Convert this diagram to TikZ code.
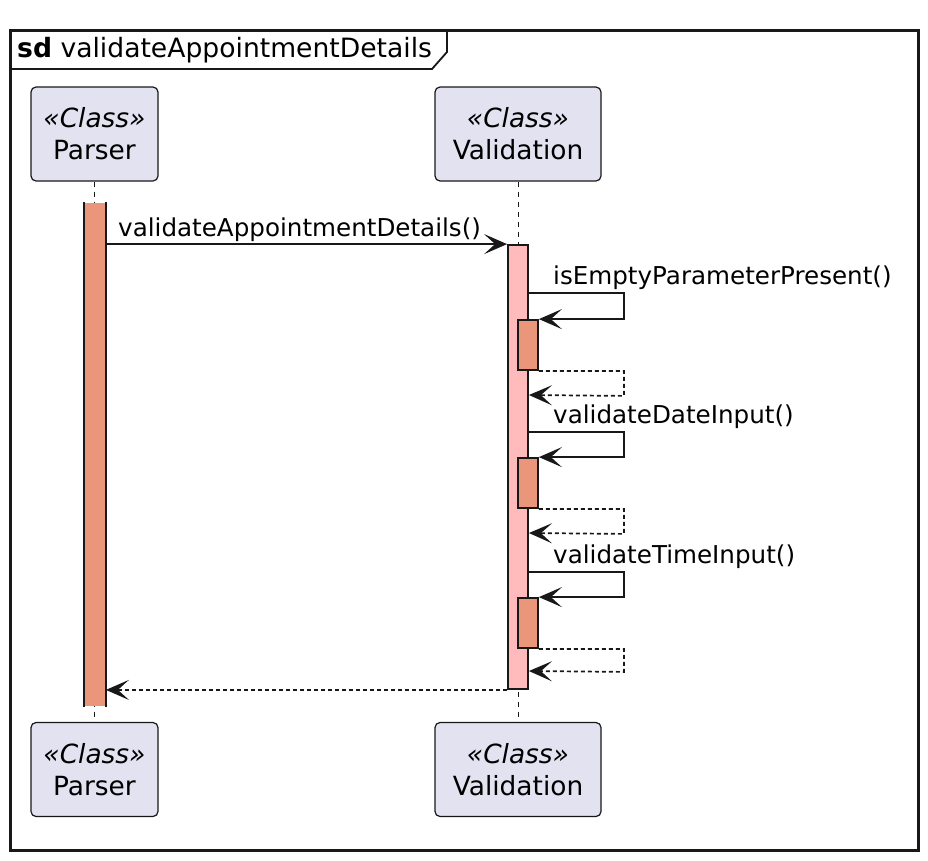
\documentclass[tikz,border=0pt]{standalone}
\usepackage{fontspec}
\setmainfont{DejaVu Sans}
\usepackage{xcolor}
\usetikzlibrary{arrows.meta, positioning}

\definecolor{partfill}{HTML}{E2E2F0}
\definecolor{barsalmon}{HTML}{E9967A}
\definecolor{barpink}{HTML}{FFBBBB}
\definecolor{inkcol}{HTML}{181818}

\begin{document}
\begin{tikzpicture}[x=1pt, y=-1pt,
        participant/.style={rectangle, rounded corners=5pt, draw=inkcol, line width=1.2pt, fill=partfill, align=center, minimum width=127pt, minimum height=94pt, inner sep=0pt, font=\fontsize{26.4}{32}\selectfont},
        actbar/.style={rectangle, draw=inkcol, line width=1.8pt, minimum width=20pt, inner sep=0pt},
        lifeline/.style={draw=inkcol, line width=0.8pt, dash pattern=on 5pt off 5pt},
        msglabel/.style={inner sep=0pt, font=\fontsize{24.6}{30}\selectfont},
        call/.style={-{Stealth[length=23pt, width=20pt, inset=11pt]}, draw=inkcol, line width=1.7pt},
        reply/.style={call, dash pattern=on 4pt off 3pt}
    ]
            \useasboundingbox (0,0) rectangle (928,860);

            % Frame
            \draw[inkcol, line width=3pt] (10,30) rectangle (918,850);
            \draw[inkcol, line width=1.8pt] (10,69) -- (432,69) -- (447,52) -- (447,30);
            \node[anchor=west, inner sep=0pt, font=\fontsize{26.6}{32}\selectfont] (title) at (17,50) {\textbf{sd} validateAppointmentDetails};

            % Participants
            \node[participant] (parsertop) at (94.5,134) {\textit{«Class»}\\Parser};
            \node[participant, minimum width=166pt] (validtop) at (518,134) {\textit{«Class»}\\Validation};
            \node[participant] (parserbot) at (94.5,769.5) {\textit{«Class»}\\Parser};
            \node[participant, minimum width=166pt] (validbot) at (518,769.5) {\textit{«Class»}\\Validation};

            \draw[lifeline] (parsertop) -- (parserbot);
            \draw[lifeline] (validtop) -- (validbot);

            % Activations
            \node[actbar, draw=none, fill=barsalmon, minimum height=503pt] (parseract) at (95,454.5) {};
            \draw[inkcol, line width=1.8pt] (parseract.north west) -- (parseract.south west)
                (parseract.north east) -- (parseract.south east);
            \node[actbar, fill=barpink, minimum height=444pt] (validact) at (518,467) {};
            \node[actbar, fill=barsalmon, minimum height=50pt] (emptyact) at (528,345) {};
            \node[actbar, fill=barsalmon, minimum height=50pt] (dateact) at (528,483) {};
            \node[actbar, fill=barsalmon, minimum height=50pt] (timeact) at (528,623) {};

            % Messages
            \draw[call] (parseract.east |- validact.north) -- (validact.north west);
            \node[msglabel, anchor=base west] (detailslbl) at (118,236) {validateAppointmentDetails()};

            \draw[call] (validact.east |- 0,293) -- ++(95,0) |- (emptyact.north east);
            \node[msglabel, anchor=base west] (emptylbl) at (553,284) {isEmptyParameterPresent()};
            \draw[reply] (emptyact.south east) -| ++(85,25) -- (validact.east |- 0,395);

            \draw[call] (validact.east |- 0,432) -- ++(95,0) |- (dateact.north east);
            \node[msglabel, anchor=base west] (datelbl) at (553,423) {validateDateInput()};
            \draw[reply] (dateact.south east) -| ++(85,25) -- (validact.east |- 0,533);

            \draw[call] (validact.east |- 0,572) -- ++(95,0) |- (timeact.north east);
            \node[msglabel, anchor=base west] (timelbl) at (553,563) {validateTimeInput()};
            \draw[reply] (timeact.south east) -| ++(85,23) -- (validact.east |- 0,671);

            \draw[reply] (validact.south west) -- (parseract.east |- validact.south);
    \end{tikzpicture}
\end{document}
